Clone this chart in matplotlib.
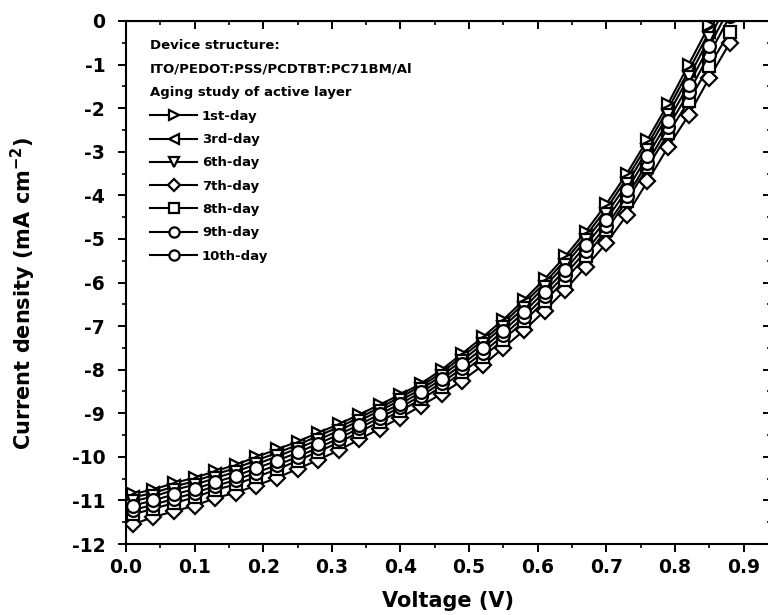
import matplotlib
matplotlib.use('Agg')
import matplotlib.pyplot as plt
from matplotlib.ticker import MultipleLocator

plt.rcParams['font.family'] = ['DejaVu Sans']
plt.rcParams['font.weight'] = 'bold'
plt.rcParams['axes.unicode_minus'] = False
plt.rcParams['mathtext.fontset'] = 'dejavusans'

# Voltage points (V)
voltage = [0.01, 0.04, 0.07, 0.10, 0.13, 0.16, 0.19, 0.22, 0.25, 0.28,
           0.31, 0.34, 0.37, 0.40, 0.43, 0.46, 0.49, 0.52, 0.55, 0.58,
           0.61, 0.64, 0.67, 0.70, 0.73, 0.76, 0.79, 0.82, 0.85, 0.88]

# Current density (mA cm-2) for each aging day
day1 = [-10.85, -10.75, -10.60, -10.48, -10.33, -10.18, -10.00, -9.83, -9.65, -9.45,
        -9.25, -9.03, -8.80, -8.57, -8.32, -8.00, -7.63, -7.25, -6.85, -6.40,
        -5.92, -5.40, -4.83, -4.20, -3.50, -2.72, -1.90, -1.00, -0.10, 0.85]
day3 = [-10.93, -10.83, -10.68, -10.56, -10.40, -10.26, -10.08, -9.91, -9.73, -9.52,
        -9.32, -9.10, -8.87, -8.63, -8.38, -8.07, -7.70, -7.33, -6.93, -6.48,
        -6.01, -5.49, -4.93, -4.31, -3.61, -2.84, -2.02, -1.14, -0.25, 0.69]
day6 = [-11.02, -10.91, -10.76, -10.64, -10.49, -10.34, -10.17, -9.99, -9.81, -9.61,
        -9.40, -9.17, -8.94, -8.70, -8.45, -8.14, -7.79, -7.41, -7.01, -6.58,
        -6.10, -5.59, -5.03, -4.43, -3.74, -2.96, -2.15, -1.29, -0.40, 0.51]
day7 = [-11.55, -11.38, -11.25, -11.12, -10.95, -10.82, -10.66, -10.48, -10.28, -10.07,
        -9.85, -9.60, -9.35, -9.10, -8.83, -8.55, -8.25, -7.90, -7.50, -7.10,
        -6.65, -6.17, -5.64, -5.10, -4.45, -3.68, -2.89, -2.16, -1.31, -0.50]
day8 = [-11.32, -11.19, -11.06, -10.93, -10.76, -10.63, -10.46, -10.29, -10.09, -9.88,
        -9.67, -9.43, -9.19, -8.94, -8.68, -8.39, -8.06, -7.71, -7.31, -6.89,
        -6.43, -5.94, -5.40, -4.80, -4.12, -3.36, -2.58, -1.84, -1.03, -0.25]
day9 = [-11.22, -11.10, -10.96, -10.83, -10.67, -10.53, -10.36, -10.19, -10.00, -9.79,
        -9.58, -9.34, -9.10, -8.86, -8.60, -8.30, -7.97, -7.61, -7.21, -6.79,
        -6.32, -5.82, -5.28, -4.70, -4.02, -3.25, -2.44, -1.64, -0.77, 0.11]
day10 = [-11.12, -11.00, -10.86, -10.74, -10.58, -10.44, -10.26, -10.09, -9.90, -9.70,
         -9.49, -9.26, -9.02, -8.78, -8.52, -8.22, -7.88, -7.51, -7.11, -6.68,
         -6.21, -5.71, -5.15, -4.56, -3.88, -3.10, -2.30, -1.46, -0.58, 0.31]

labels = ['1st-day', '3rd-day', '6th-day', '7th-day', '8th-day', '9th-day', '10th-day']
markers = ['>', '<', 'v', 'D', 's', 'o', 'o']
series = [day1, day3, day6, day7, day8, day9, day10]

fig = plt.figure(figsize=(7.68, 6.15), dpi=100)
ax = fig.add_axes([126 / 768, 71 / 615, 645 / 768, 523 / 615])

for ys, mk, lab in zip(series, markers, labels):
    ms = 7.8 if mk == 'D' else 9.2
    ax.plot(voltage, ys, color='black', lw=1.5, marker=mk, markersize=ms,
            markerfacecolor='white', markeredgecolor='black', markeredgewidth=1.6,
            label=lab)

ax.set_xlim(0, 0.94)
ax.set_ylim(-12, 0)
ax.xaxis.set_major_locator(MultipleLocator(0.1))
ax.xaxis.set_minor_locator(MultipleLocator(0.05))
ax.yaxis.set_major_locator(MultipleLocator(1))
ax.yaxis.set_minor_locator(MultipleLocator(0.5))
ax.xaxis.set_major_formatter(plt.FuncFormatter(lambda v, p: f"{v:.1f}"))
ax.yaxis.set_major_formatter(plt.FuncFormatter(lambda v, p: f"{v:.0f}"))

for s in ax.spines.values():
    s.set_linewidth(1.5)

ax.tick_params(which='major', direction='out', length=6, width=1.4, labelsize=13.5)
ax.tick_params(axis='y', which='major', pad=9)
ax.tick_params(axis='x', which='major', pad=4)
ax.tick_params(which='minor', direction='out', length=3, width=1.2)

# mirrored top/right axes with inward ticks, no labels
top = ax.secondary_xaxis('top')
top.xaxis.set_major_locator(MultipleLocator(0.1))
top.xaxis.set_minor_locator(MultipleLocator(0.05))
top.tick_params(which='major', direction='in', length=6, width=1.4, labeltop=False)
top.tick_params(which='minor', direction='in', length=3, width=1.2)
right = ax.secondary_yaxis('right')
right.yaxis.set_major_locator(MultipleLocator(1))
right.yaxis.set_minor_locator(MultipleLocator(0.5))
right.tick_params(which='major', direction='in', length=6, width=1.4, labelright=False)
right.tick_params(which='minor', direction='in', length=3, width=1.2)

ax.set_xlabel('Voltage (V)', fontsize=15, fontweight='bold', labelpad=10)
ax.set_ylabel(r'Current density (mA cm$^{\mathbf{-2}}$)', fontsize=15, fontweight='bold')
ax.yaxis.set_label_coords(-0.136, 0.479)

hdr = dict(transform=ax.transAxes, fontsize=9.5, fontweight='bold', va='center', ha='left')
ax.text(0.037, 0.954, 'Device structure:', **hdr)
ax.text(0.037, 0.908, 'ITO/PEDOT:PSS/PCDTBT:PC71BM/Al', **hdr)
ax.text(0.037, 0.864, 'Aging study of active layer', **hdr)

leg = ax.legend(loc='upper left', bbox_to_anchor=(0.037, 0.830), frameon=False,
                fontsize=9.5, handlelength=3.6, handletextpad=0.35, labelspacing=0.78,
                borderpad=0, borderaxespad=0, markerscale=0.8)
for t in leg.get_texts():
    t.set_fontweight('bold')

fig.savefig('out.png', dpi=100)
